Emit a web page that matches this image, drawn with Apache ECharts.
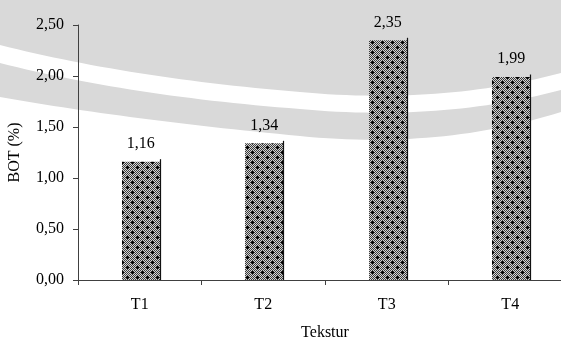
<!DOCTYPE html>
<html>
<head>
<meta charset="utf-8">
<script src="https://cdn.jsdelivr.net/npm/echarts@6/dist/echarts.min.js"></script>
<style>
  html, body { margin: 0; padding: 0; background: #fff; }
  #chart { width: 561px; height: 340px; }
</style>
</head>
<body>
<div id="chart"></div>
<script>
// Soil organic matter (BOT) by texture class
const categories = ['T1', 'T2', 'T3', 'T4'];
const botValues = [1.16, 1.34, 2.35, 1.99];
const yAxisMin = 0;
const yAxisMax = 2.5;
const yAxisStep = 0.5;

const FONT = '"Liberation Serif", "Times New Roman", serif';
const FONT_SIZE = 16;
const fmt = v => Number(v).toFixed(2).replace('.', ',');

// Stippled fill: fine checker with black crosses on a diagonal lattice
function makeStipple() {
  const c = document.createElement('canvas');
  c.width = 10; c.height = 10;
  const ctx = c.getContext('2d');
  for (let y = 0; y < 10; y++) {
    for (let x = 0; x < 10; x++) {
      ctx.fillStyle = (x + y) % 2 === 0 ? '#3a3a3a' : '#d4d4d4';
      ctx.fillRect(x, y, 1, 1);
    }
  }
  ctx.fillStyle = '#000';
  [[2, 2], [7, 7]].forEach(([cx, cy]) => {
    ctx.fillRect(cx - 1, cy, 3, 1);
    ctx.fillRect(cx, cy - 1, 1, 3);
  });
  return c;
}
const stipple = { image: makeStipple(), repeat: 'repeat' };

// Sample a quadratic curve into polygon points (background decoration)
function quad(p0, p1, p2, n) {
  const pts = [];
  for (let i = 0; i <= n; i++) {
    const t = i / n, u = 1 - t;
    pts.push([u * u * p0[0] + 2 * u * t * p1[0] + t * t * p2[0],
              u * u * p0[1] + 2 * u * t * p1[1] + t * t * p2[1]]);
  }
  return pts;
}
// the page is grey; white is laid over it below the arc bands
const whiteLower = quad([0, 97], [130, 120], [300, 136], 30)
  .concat(quad([300, 136], [440, 150], [561, 112], 30))
  .concat([[561, 340], [0, 340]]);
const whiteStripe = quad([0, 45], [130, 78], [300, 92], 30)
  .concat(quad([300, 92], [440, 105], [561, 73], 30))
  .concat(quad([561, 90], [440, 122], [300, 109], 30))
  .concat(quad([300, 109], [130, 96], [0, 63], 30));

function renderBar(params, api) {
  const v = api.value(1);
  const top = api.coord([api.value(0), v]);
  const base = api.coord([api.value(0), 0]);
  const w = 38;
  const left = Math.round(top[0] - w / 2 + 1);
  return {
    type: 'group',
    children: [
      {
        type: 'rect',
        shape: { x: left, y: top[1], width: w, height: base[1] - top[1] },
        style: { fill: stipple }
      },
      {
        type: 'line',
        shape: { x1: left + w + 0.5, y1: top[1] - 2.5, x2: left + w + 0.5, y2: base[1] },
        style: { stroke: '#111', lineWidth: 1.2 }
      },
      {
        type: 'text',
        style: {
          text: fmt(v), x: top[0] + 1, y: top[1] - 18,
          align: 'center', verticalAlign: 'middle',
          font: FONT_SIZE + 'px ' + FONT, fill: '#000'
        }
      }
    ]
  };
}

const chart = echarts.init(document.getElementById('chart'), null, { renderer: 'canvas' });
chart.setOption({
  animation: false,
  backgroundColor: '#d9d9d9',
  graphic: [
    { type: 'polygon', z: -10, silent: true, shape: { points: whiteLower }, style: { fill: '#ffffff' } },
    { type: 'polygon', z: -10, silent: true, shape: { points: whiteStripe }, style: { fill: '#ffffff' } }
  ],
  grid: { left: 78, top: 25, width: 494, bottom: 60, outerBoundsMode: 'none', containLabel: false },
  xAxis: {
    type: 'category',
    data: categories,
    name: 'Tekstur',
    nameLocation: 'middle',
    nameGap: 45,
    nameTextStyle: { fontFamily: FONT, fontSize: FONT_SIZE, color: '#000' },
    axisLine: { lineStyle: { color: '#404040', width: 1 } },
    axisTick: { show: true, length: 5, lineStyle: { color: '#404040' } },
    axisLabel: { fontFamily: FONT, fontSize: FONT_SIZE, color: '#000', margin: 17 },
    splitLine: { show: false }
  },
  yAxis: {
    type: 'value',
    min: yAxisMin, max: yAxisMax, interval: yAxisStep,
    name: 'BOT (%)',
    nameLocation: 'middle',
    nameGap: 55,
    nameRotate: 90,
    nameTextStyle: { fontFamily: FONT, fontSize: FONT_SIZE, color: '#000' },
    axisLine: { show: true, lineStyle: { color: '#404040', width: 1 } },
    axisTick: { show: true, length: 5, lineStyle: { color: '#404040' } },
    axisLabel: { fontFamily: FONT, fontSize: FONT_SIZE, color: '#000', margin: 14, formatter: v => fmt(v) },
    splitLine: { show: false }
  },
  series: [{
    type: 'custom',
    renderItem: renderBar,
    encode: { x: 0, y: 1 },
    data: botValues.map((v, i) => [i, v]),
    z: 2
  }]
});
</script>
</body>
</html>
